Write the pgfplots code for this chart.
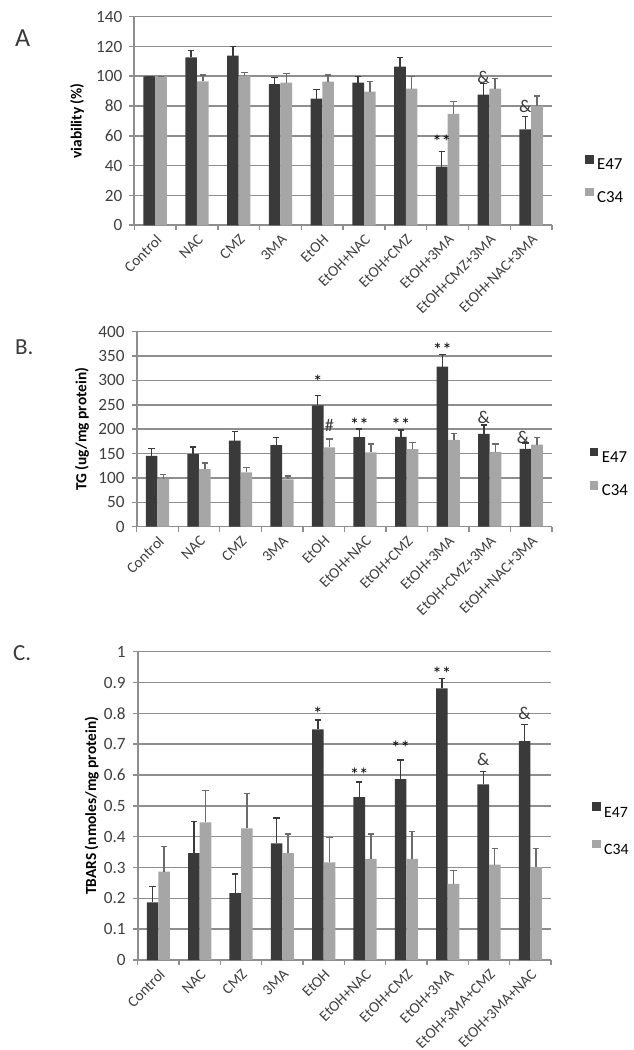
\documentclass[border=0pt]{standalone}
\usepackage{fontspec}
\setmainfont{Carlito}
\usepackage{pgfplots}
\usepackage{pgfplotstable}
\pgfplotsset{compat=1.18}
\definecolor{dk}{HTML}{3A3A3A}
\definecolor{lt}{HTML}{A6A6A6}
\definecolor{grd}{HTML}{8E8E8E}
\definecolor{txt}{HTML}{3F3F3F}

\pgfplotstableread{
x a ae b be
0 100 0 100 0
1 112.7 4.5 96.6 4.3
2 113.8 6.0 100.2 2.2
3 94.8 4.5 95.8 6.2
4 85.0 6.0 96.5 4.5
5 95.7 4.1 89.7 6.7
6 106.5 6.2 91.7 8.1
7 39.4 10.0 74.7 8.3
8 87.7 7.6 91.7 6.7
9 64.4 8.5 80.0 6.8
}\dataA

\pgfplotstableread{
x a ae b be
0 145.4 15.6 97.6 8.9
1 148.8 15.0 118.0 12.4
2 176.8 18.4 111.3 10.2
3 167.2 15.8 97.0 7.4
4 249.1 20.5 162.5 17.0
5 183.6 16.4 152.2 17.1
6 184.3 14.3 159.0 13.7
7 328.3 25.3 178.2 12.9
8 190.4 17.8 153.6 15.7
9 159.7 11.6 168.6 14.4
}\dataB

\pgfplotstableread{
x a ae b be
0 0.187 0.052 0.287 0.082
1 0.347 0.103 0.446 0.103
2 0.217 0.062 0.427 0.113
3 0.378 0.082 0.347 0.062
4 0.748 0.031 0.317 0.081
5 0.528 0.049 0.328 0.081
6 0.587 0.062 0.328 0.088
7 0.881 0.032 0.247 0.043
8 0.570 0.041 0.309 0.053
9 0.710 0.054 0.301 0.061
}\dataC

\pgfplotsset{
 panel/.style={
  scale only axis, anchor=south west,
  ybar=0pt, bar width=0.28,
  xmin=-0.5, xmax=9.5, ymin=0,
  axis x line*=bottom, axis y line*=left,
  axis line style={grd, line width=0.8pt},
  xtick={0,...,9},
  minor xtick={-0.5,0.5,...,9.5},
  major x tick style={draw=none},
  minor x tick style={grd, line width=0.7pt},
  major y tick style={grd, line width=0.8pt},
  major tick length=2.5pt, minor tick length=2.5pt,
  tick align=outside,
  ymajorgrids, grid style={grd, line width=0.8pt},
  yticklabel style={font=\fontsize{8.6}{9}\selectfont, text=txt},
  xticklabel style={rotate=45, anchor=north east, font=\fontsize{7.6}{8}\selectfont, text=txt, inner sep=1pt},
  /pgf/number format/assume math mode=true,
  ylabel style={font=\bfseries\fontsize{7.7}{8}\selectfont, anchor=center},
  legend style={draw=none, fill=none, font=\fontsize{8.4}{9}\selectfont,
    nodes={inner sep=0.6pt, text height=5.6pt, text depth=0pt}, column sep=1.2pt},
  legend cell align=left,
  legend image code/.code={\fill[##1] (0pt,0.3pt) rectangle (4.2pt,4.5pt);},
 },
 sE/.style={fill=dk, draw=none, error bars/.cd, y dir=plus, y explicit,
   error bar style={draw=dk, line width=0.7pt},
   error mark options={draw=dk, rotate=90, mark size=1.6pt, line width=0.7pt}},
 sC/.style={fill=lt, draw=none, error bars/.cd, y dir=plus, y explicit,
   error bar style={draw=dk!75, line width=0.7pt},
   error mark options={draw=dk!75, rotate=90, mark size=1.6pt, line width=0.7pt}},
}

\begin{document}
\begin{tikzpicture}
\useasboundingbox (0,0) rectangle (316.5pt,525pt);

% Panel A
\begin{axis}[panel,
  at={(67.15pt,412.35pt)}, width=208.85pt, height=104.3pt,
  ymax=140, ytick={0,20,...,140},
  xticklabels={Control,NAC,CMZ,3MA,EtOH,EtOH+NAC,EtOH+CMZ,EtOH+3MA,EtOH+CMZ+3MA,EtOH+NAC+3MA},
  ylabel={viability (\%)},
  ylabel style={at={(axis description cs:-0.137,0.5)}},
  legend style={at={(axis description cs:1.064,0.22)}, anchor=west, row sep=8.2pt},
]
\addplot[sE] table[x=x, y=a, y error=ae]{\dataA};
\addplot[sC] table[x=x, y=b, y error=be]{\dataA};
\legend{E47,C34}
\node[font=\fontsize{9.5}{9}\selectfont] at (axis cs:6.86,56) {**};
\node[font=\fontsize{9}{9}\selectfont, text=dk] at (axis cs:7.86,99) {\&};
\node[font=\fontsize{9}{9}\selectfont, text=dk] at (axis cs:8.86,80) {\&};
\end{axis}

% Panel B
\begin{axis}[panel,
  at={(68.35pt,261.65pt)}, width=207.65pt, height=97.5pt,
  ymax=400, ytick={0,50,...,400},
  xticklabels={Control,NAC,CMZ,3MA,EtOH,EtOH+NAC,EtOH+CMZ,EtOH+3MA,EtOH+CMZ+3MA,EtOH+NAC+3MA},
  ylabel={TG (ug/mg protein)},
  ylabel style={at={(axis description cs:-0.132,0.5)}},
  legend style={at={(axis description cs:1.076,0.278)}, anchor=west, row sep=8.7pt},
]
\addplot[sE] table[x=x, y=a, y error=ae]{\dataB};
\addplot[sC] table[x=x, y=b, y error=be]{\dataB};
\legend{E47,C34}
\node[font=\fontsize{9.5}{9}\selectfont] at (axis cs:3.86,297) {*};
\node[font=\fontsize{9}{9}\selectfont, text=dk] at (axis cs:4.14,207) {\#};
\node[font=\fontsize{9.5}{9}\selectfont] at (axis cs:4.86,209) {**};
\node[font=\fontsize{9.5}{9}\selectfont] at (axis cs:5.86,209) {**};
\node[font=\fontsize{9.5}{9}\selectfont] at (axis cs:6.86,363) {**};
\node[font=\fontsize{9}{9}\selectfont, text=dk] at (axis cs:7.86,224) {\&};
\node[font=\fontsize{9}{9}\selectfont, text=dk] at (axis cs:8.8,183) {\&};
\end{axis}

% Panel C
\begin{axis}[panel,
  at={(68.85pt,45pt)}, width=206.65pt, height=154.15pt,
  ymax=1, ytick={0,0.1,0.2,0.3,0.4,0.5,0.6,0.7,0.8,0.9,1},
  yticklabel style={/pgf/number format/fixed},
  xticklabels={Control,NAC,CMZ,3MA,EtOH,EtOH+NAC,EtOH+CMZ,EtOH+3MA,EtOH+3MA+CMZ,EtOH+3MA+NAC},
  ylabel={TBARS (nmoles/mg protein)},
  ylabel style={at={(axis description cs:-0.111,0.5)}},
  legend style={at={(axis description cs:1.084,0.425)}, anchor=west, row sep=10.7pt,
    font=\fontsize{7.9}{9}\selectfont},
]
\addplot[sE] table[x=x, y=a, y error=ae]{\dataC};
\addplot[sC] table[x=x, y=b, y error=be]{\dataC};
\legend{E47,C34}
\node[font=\fontsize{9.5}{9}\selectfont] at (axis cs:3.86,0.80) {*};
\node[font=\fontsize{9.5}{9}\selectfont] at (axis cs:4.86,0.60) {**};
\node[font=\fontsize{9.5}{9}\selectfont] at (axis cs:5.86,0.69) {**};
\node[font=\fontsize{9.5}{9}\selectfont] at (axis cs:6.86,0.93) {**};
\node[font=\fontsize{9}{9}\selectfont, text=dk] at (axis cs:7.86,0.65) {\&};
\node[font=\fontsize{9}{9}\selectfont, text=dk] at (axis cs:8.86,0.80) {\&};
\end{axis}

\node[anchor=west, font=\fontsize{13}{13}\selectfont, text=dk] at (4pt,506pt) {A};
\node[anchor=west, font=\fontsize{11.5}{12}\selectfont, text=dk] at (4pt,351.5pt) {B.};
\node[anchor=west, font=\fontsize{11.5}{12}\selectfont, text=dk] at (3pt,198.5pt) {C.};
\end{tikzpicture}
\end{document}
